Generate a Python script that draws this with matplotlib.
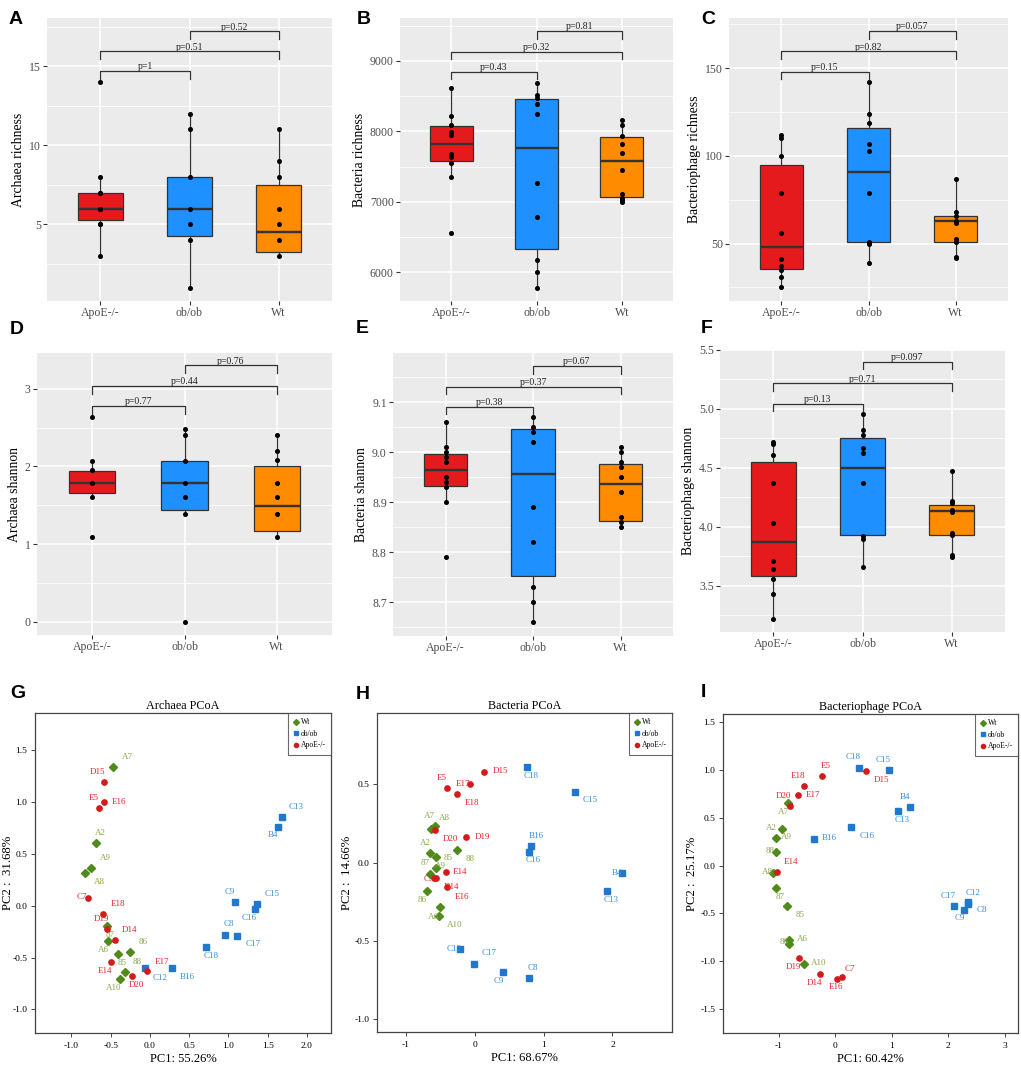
import matplotlib

matplotlib.use("Agg")
import matplotlib.pyplot as plt
from matplotlib.ticker import MultipleLocator, FormatStrFormatter
from matplotlib.lines import Line2D

W, H = 1021, 1069

GROUPS = ["ApoE-/-", "ob/ob", "Wt"]
BOX_COLORS = ["#E41A1C", "#1E90FF", "#FF8C00"]
PAIRS = [(1, 2), (1, 3), (2, 3)]

# ---- alpha diversity: points per group, box stats (q1, med, q3, lo, hi), brackets
A_PTS = [[14, 8, 7, 7, 6, 6, 6, 5, 5, 3],
         [12, 11, 8, 6, 5, 4, 1],
         [11, 9, 8, 6, 5, 4, 3]]
A_BOX = [[5.25, 6, 7, 3, 8], [4.25, 6, 8, 1, 12], [3.25, 4.5, 7.5, 3, 11]]
A_BR_Y = [14.7, 15.95, 17.2]
A_BR_P = ["p=1", "p=0.51", "p=0.52"]

B_PTS = [[8620, 8220, 8090, 7990, 7950, 7680, 7630, 7550, 7350, 6560],
         [8690, 8520, 8480, 8390, 8240, 7260, 6780, 6170, 6000, 5780],
         [8160, 8090, 7940, 7820, 7690, 7450, 7110, 7050, 7020, 6990]]
B_BOX = [[7573, 7820, 8076, 7350, 8620], [6332, 7768, 8460, 5780, 8690],
         [7071, 7573, 7915, 6990, 8160]]
B_BR_Y = [8848, 9133, 9427]
B_BR_P = ["p=0.43", "p=0.32", "p=0.81"]

C_PTS = [[112, 110.5, 100, 79, 56, 41, 37.5, 35, 31, 25],
         [142, 124, 119, 107, 103, 79, 51, 49.6, 39],
         [87, 68, 65.5, 63, 62, 52.5, 51, 42.6, 41.6]]
C_BOX = [[35.7, 48.3, 95, 25, 112], [51, 91, 116, 39, 142], [51, 63, 66, 41.6, 87]]
C_BR_Y = [148.1, 159.7, 171.3]
C_BR_P = ["p=0.15", "p=0.82", "p=0.057"]

D_PTS = [[2.64, 2.07, 1.95, 1.79, 1.61, 1.09],
         [2.48, 2.40, 2.07, 1.79, 1.61, 1.39, 0.0],
         [2.40, 2.20, 2.08, 1.79, 1.61, 1.39, 1.09]]
D_BOX = [[1.654, 1.787, 1.946, 1.61, 2.07], [1.443, 1.787, 2.075, 1.387, 2.48],
         [1.172, 1.495, 2.01, 1.09, 2.40]]
D_BR_Y = [2.776, 3.034, 3.30]
D_BR_P = ["p=0.77", "p=0.44", "p=0.76"]

E_PTS = [[9.06, 9.01, 9.00, 8.99, 8.98, 8.95, 8.94, 8.93, 8.90, 8.79],
         [9.07, 9.05, 9.04, 9.02, 8.89, 8.82, 8.73, 8.70, 8.66],
         [9.01, 9.00, 8.98, 8.97, 8.95, 8.92, 8.87, 8.86, 8.85]]
E_BOX = [[8.933, 8.965, 8.997, 8.90, 9.06], [8.752, 8.956, 9.047, 8.66, 9.07],
         [8.863, 8.936, 8.977, 8.85, 9.01]]
E_BR_Y = [9.091, 9.131, 9.172]
E_BR_P = ["p=0.38", "p=0.37", "p=0.67"]

F_PTS = [[4.72, 4.70, 4.61, 4.37, 4.03, 3.71, 3.64, 3.56, 3.43, 3.22],
         [4.96, 4.82, 4.78, 4.67, 4.63, 4.37, 3.92, 3.90, 3.66],
         [4.47, 4.22, 4.20, 4.14, 4.13, 3.95, 3.93, 3.76, 3.74]]
F_BOX = [[3.579, 3.87, 4.548, 3.22, 4.72], [3.929, 4.5, 4.754, 3.66, 4.96],
         [3.935, 4.136, 4.189, 3.74, 4.47]]
F_BR_Y = [5.045, 5.218, 5.401]
F_BR_P = ["p=0.13", "p=0.71", "p=0.097"]

# ---- PCoA: sample names, coordinates, label positions
G_WT_N = ["A7", "A2", "A9", "A8", "87", "A6", "85", "86", "88", "A10"]
G_WT_X = [-0.468, -0.685, -0.749, -0.826, -0.549, -0.536, -0.404, -0.251, -0.323, -0.387]
G_WT_Y = [1.339, 0.610, 0.368, 0.316, -0.197, -0.342, -0.465, -0.448, -0.642, -0.710]
G_WT_LX = [-0.289, -0.630, -0.570, -0.643, -0.502, -0.596, -0.349, -0.089, -0.162, -0.464]
G_WT_LY = [1.435, 0.706, 0.465, 0.232, -0.284, -0.429, -0.552, -0.348, -0.542, -0.794]
G_OB_N = ["C13", "B4", "C9", "C15", "C16", "C8", "C17", "C18", "B16", "C12"]
G_OB_X = [1.677, 1.626, 1.085, 1.362, 1.340, 0.953, 1.115, 0.719, 0.277, -0.064]
G_OB_Y = [0.852, 0.765, 0.032, 0.016, -0.035, -0.281, -0.290, -0.400, -0.600, -0.606]
G_OB_LX = [1.864, 1.562, 1.017, 1.562, 1.268, 1.004, 1.311, 0.774, 0.472, 0.128]
G_OB_LY = [0.952, 0.681, 0.132, 0.116, -0.119, -0.181, -0.374, -0.487, -0.687, -0.697]
G_AP_N = ["D15", "E16", "E5", "C7", "E18", "D19", "D14", "E14", "D20", "E17"]
G_AP_X = [-0.587, -0.587, -0.647, -0.791, -0.604, -0.549, -0.451, -0.494, -0.226, -0.043]
G_AP_Y = [1.194, 1.000, 0.942, 0.077, -0.077, -0.226, -0.335, -0.542, -0.681, -0.632]
G_AP_LX = [-0.664, -0.396, -0.715, -0.864, -0.413, -0.617, -0.255, -0.570, -0.166, 0.153]
G_AP_LY = [1.290, 1.000, 1.039, 0.084, 0.016, -0.126, -0.235, -0.632, -0.768, -0.539]

H_WT_N = ["A7", "A8", "A2", "85", "88", "A9", "87", "86", "A6", "A10"]
H_WT_X = [-0.638, -0.580, -0.657, -0.570, -0.256, -0.570, -0.657, -0.691, -0.522, -0.502]
H_WT_Y = [0.217, 0.236, 0.062, 0.034, 0.081, -0.036, -0.070, -0.181, -0.343, -0.285]
H_WT_LX = [-0.657, -0.435, -0.720, -0.386, -0.068, -0.493, -0.725, -0.763, -0.594, -0.290]
H_WT_LY = [0.300, 0.283, 0.128, 0.030, 0.023, -0.021, 0.000, -0.238, -0.345, -0.400]
H_OB_N = ["C18", "C15", "B16", "C16", "B4", "C13", "C12", "C17", "C9", "C8"]
H_OB_X = [0.754, 1.449, 0.821, 0.783, 2.145, 1.918, -0.213, -0.010, 0.415, 0.783]
H_OB_Y = [0.611, 0.453, 0.106, 0.070, -0.068, -0.181, -0.555, -0.645, -0.698, -0.740]
H_OB_LX = [0.816, 1.671, 0.899, 0.855, 2.068, 1.986, -0.295, 0.213, 0.343, 0.841]
H_OB_LY = [0.555, 0.398, 0.172, 0.017, -0.064, -0.236, -0.551, -0.577, -0.755, -0.674]
H_AP_N = ["D15", "E5", "E17", "E18", "D19", "D20", "E14", "C7", "D14", "E16"]
H_AP_X = [0.140, -0.396, -0.072, -0.261, -0.121, -0.575, -0.425, -0.585, -0.556, -0.406]
H_AP_Y = [0.581, 0.477, 0.506, 0.436, 0.162, 0.209, -0.062, -0.100, -0.098, -0.155]
H_AP_LX = [0.367, -0.473, -0.164, -0.043, 0.106, -0.357, -0.213, -0.671, -0.333, -0.188]
H_AP_LY = [0.583, 0.540, 0.506, 0.379, 0.164, 0.149, -0.060, -0.102, -0.155, -0.217]

I_WT_N = ["A7", "A2", "A9", "88", "A8", "87", "85", "A6", "86", "A10"]
I_WT_X = [-0.838, -0.950, -1.050, -1.050, -1.109, -1.056, -0.855, -0.832, -0.826, -0.566]
I_WT_Y = [0.656, 0.387, 0.286, 0.143, -0.077, -0.230, -0.426, -0.774, -0.816, -1.029]
I_WT_LX = [-0.920, -1.139, -0.867, -1.156, -1.198, -0.985, -0.625, -0.578, -0.914, -0.289]
I_WT_LY = [0.562, 0.391, 0.296, 0.153, -0.070, -0.324, -0.520, -0.771, -0.802, -1.022]
I_OB_N = ["C18", "C15", "B4", "C13", "C16", "B16", "C17", "C12", "C8", "C9"]
I_OB_X = [0.419, 0.956, 1.322, 1.103, 0.283, -0.383, 2.100, 2.354, 2.354, 2.289]
I_OB_Y = [1.025, 0.998, 0.610, 0.572, 0.401, 0.283, -0.426, -0.380, -0.405, -0.464]
I_OB_LX = [0.313, 0.855, 1.239, 1.186, 0.555, -0.112, 2.000, 2.437, 2.590, 2.201]
I_OB_LY = [1.134, 1.109, 0.719, 0.478, 0.310, 0.286, -0.321, -0.290, -0.467, -0.551]
I_AP_N = ["E5", "D15", "E18", "E17", "D20", "E14", "D19", "D14", "E16", "C7"]
I_AP_X = [-0.242, 0.543, -0.555, -0.655, -0.814, -1.044, -0.643, -0.277, 0.029, 0.118]
I_AP_Y = [0.938, 0.987, 0.830, 0.736, 0.624, -0.066, -0.966, -1.130, -1.186, -1.168]
I_AP_LX = [-0.171, 0.814, -0.655, -0.389, -0.914, -0.785, -0.743, -0.378, 0.012, 0.265]
I_AP_LY = [1.043, 0.893, 0.935, 0.736, 0.725, 0.038, -1.060, -1.228, -1.266, -1.081]

EDGE = "#333333"
PANEL_BG = "#EBEBEB"
TICK_TXT = "#4D4D4D"
GREEN, GREEN_TXT = "#4F8A1A", "#86A846"
BLUE, BLUE_TXT = "#1F78CC", "#3A8EDB"
RED, RED_TXT = "#D41A1A", "#E3262B"

plt.rcParams.update({
    "font.family": "Liberation Serif",
    "axes.unicode_minus": False,
})

fig = plt.figure(figsize=(W / 100, H / 100), dpi=100)


def rect(left, top, right, bottom):
    return [left / W, 1 - bottom / H, (right - left) / W, (bottom - top) / H]


def letter(ch, x, y):
    fig.text(x / W, 1 - y / H, ch, fontsize=14, fontweight="bold",
             family="Liberation Sans", va="baseline", ha="left")


def box_panel(box, pts, stats, br_y, br_p, ylabel, ylim, yticks, minor, fmt,
              xfs=(8.5, 8.5, 8.5)):
    ax = fig.add_axes(rect(*box))
    ax.set_facecolor(PANEL_BG)
    bstats = [dict(q1=s[0], med=s[1], q3=s[2], whislo=s[3], whishi=s[4], fliers=[])
              for s in stats]
    b = ax.bxp(bstats, positions=[1, 2, 3], widths=0.5, patch_artist=True,
               showcaps=False, showfliers=False,
               boxprops=dict(edgecolor=EDGE, lw=0.9),
               medianprops=dict(color=EDGE, lw=1.7),
               whiskerprops=dict(color=EDGE, lw=0.9))
    for patch, c in zip(b["boxes"], BOX_COLORS):
        patch.set_facecolor(c)
    for i, ys in enumerate(pts):
        ax.plot([i + 1] * len(ys), ys, "o", ms=2.6, color="black", zorder=5)
    drop = 0.027 * (ylim[1] - ylim[0])
    for (a, c), y, p in zip(PAIRS, br_y, br_p):
        ax.plot([a, a, c, c], [y - drop, y, y, y - drop], color=EDGE, lw=0.9, zorder=5)
        ax.annotate(p, ((a + c) / 2, y), xytext=(0, 1.2), textcoords="offset points",
                    ha="center", va="baseline", fontsize=7, color="#222222")
    ax.set_xlim(0.4, 3.6)
    ax.set_ylim(*ylim)
    ax.set_xticks([1, 2, 3])
    ax.set_xticklabels(GROUPS)
    for t, fs in zip(ax.get_xticklabels(), xfs):
        t.set_fontsize(fs)
    ax.set_yticks(yticks)
    ax.yaxis.set_major_formatter(FormatStrFormatter(fmt))
    ax.yaxis.set_minor_locator(MultipleLocator(minor))
    ax.set_axisbelow(True)
    ax.grid(which="major", color="white", lw=1.1)
    ax.grid(which="minor", axis="y", color="white", lw=0.55)
    ax.tick_params(which="major", length=3, color=EDGE, labelcolor=TICK_TXT,
                   labelsize=8.5, pad=1.5)
    ax.tick_params(which="minor", length=0)
    for s in ax.spines.values():
        s.set_visible(False)
    ax.set_ylabel(ylabel, fontsize=9.8, labelpad=3)
    return ax


def pcoa_panel(box, groups, title, xlabel, ylabel, xlim, ylim, xticks, yticks, fmt,
               ylab_x):
    ax = fig.add_axes(rect(*box))
    for xs, ys, names, lx, ly, mk, ms, col, tcol in groups:
        ax.plot(xs, ys, mk, ms=ms, color=col, ls="none", zorder=3)
        for n, tx, ty in zip(names, lx, ly):
            ax.text(tx, ty, n, color=tcol, fontsize=6.5, ha="center", va="center")
    ax.set_xlim(*xlim)
    ax.set_ylim(*ylim)
    ax.set_xticks(xticks)
    ax.set_yticks(yticks)
    ax.xaxis.set_major_formatter(FormatStrFormatter(fmt))
    ax.yaxis.set_major_formatter(FormatStrFormatter("%.1f"))
    ax.tick_params(length=3, width=0.7, color="#444444", labelsize=6.8, pad=3.5)
    ax.tick_params(axis="y", pad=2.5)
    for s in ax.spines.values():
        s.set_color("#444444")
        s.set_linewidth(0.9)
    ax.set_title(title, fontsize=8.7, pad=3)
    ax.set_xlabel(xlabel, fontsize=9, labelpad=2)
    ax.set_ylabel(ylabel, fontsize=9.2)
    ax.yaxis.set_label_coords(ylab_x, 0.5)
    handles = [Line2D([], [], marker="D", ms=3, color=GREEN, ls="none"),
               Line2D([], [], marker="s", ms=3, color=BLUE, ls="none"),
               Line2D([], [], marker="o", ms=3, color=RED, ls="none")]
    leg = ax.legend(handles, ["Wt", "ob/ob", "ApoE-/-"], loc="upper right",
                    fontsize=5.5, frameon=True, fancybox=False, borderaxespad=0,
                    handlelength=0.6, handletextpad=0.35, borderpad=0.7,
                    labelspacing=0.45)
    leg.get_frame().set_edgecolor("#444444")
    leg.get_frame().set_linewidth(0.8)
    return ax


# ---- row 1 / row 2 : richness and shannon
box_panel((47, 18, 332, 301), A_PTS, A_BOX, A_BR_Y, A_BR_P, "Archaea richness",
          (0.15, 18.05), [5, 10, 15], 2.5, "%d")
box_panel((400, 18, 673, 301), B_PTS, B_BOX, B_BR_Y, B_BR_P, "Bacteria richness",
          (5590, 9610), [6000, 7000, 8000, 9000], 500, "%d")
box_panel((729, 18, 1008, 301), C_PTS, C_BOX, C_BR_Y, C_BR_P, "Bacteriophage richness",
          (17.3, 178.7), [50, 100, 150], 25, "%d")
box_panel((37, 353, 332, 635), D_PTS, D_BOX, D_BR_Y, D_BR_P, "Archaea shannon",
          (-0.168, 3.46), [0, 1, 2, 3], 0.5, "%d", xfs=(6.5, 8.5, 8.5))
box_panel((393, 353, 673, 636), E_PTS, E_BOX, E_BR_Y, E_BR_P, "Bacteria shannon",
          (8.633, 9.198), [8.7, 8.8, 8.9, 9.0, 9.1], 0.05, "%.1f", xfs=(9.5, 9.5, 9.5))
box_panel((720, 350, 1005, 632), F_PTS, F_BOX, F_BR_Y, F_BR_P, "Bacteriophage shannon",
          (3.108, 5.5), [3.5, 4.0, 4.5, 5.0, 5.5], 0.25, "%.1f")

# ---- row 3 : PCoA
pcoa_panel((35, 713, 331, 1033),
           [(G_WT_X, G_WT_Y, G_WT_N, G_WT_LX, G_WT_LY, "D", 3.6, GREEN, GREEN_TXT),
            (G_OB_X, G_OB_Y, G_OB_N, G_OB_LX, G_OB_LY, "s", 3.8, BLUE, BLUE_TXT),
            (G_AP_X, G_AP_Y, G_AP_N, G_AP_LX, G_AP_LY, "o", 3.8, RED, RED_TXT)],
           "Archaea PCoA", "PC1: 55.26%", "PC2 :  31.68%", (-1.464, 2.306), (-1.229, 1.861),
           [-1.0, -0.5, 0.0, 0.5, 1.0, 1.5, 2.0], [-1.0, -0.5, 0.0, 0.5, 1.0, 1.5], "%.1f",
           -0.072)
pcoa_panel((377, 713, 672, 1032),
           [(H_WT_X, H_WT_Y, H_WT_N, H_WT_LX, H_WT_LY, "D", 3.6, GREEN, GREEN_TXT),
            (H_OB_X, H_OB_Y, H_OB_N, H_OB_LX, H_OB_LY, "s", 3.8, BLUE, BLUE_TXT),
            (H_AP_X, H_AP_Y, H_AP_N, H_AP_LX, H_AP_LY, "o", 3.8, RED, RED_TXT)],
           "Bacteria PCoA", "PC1: 68.67%", "PC2 :  14.66%", (-1.42, 2.865), (-1.083, 0.957),
           [-1, 0, 1, 2], [-1.0, -0.5, 0.0, 0.5], "%d", -0.08)
pcoa_panel((723, 714, 1018, 1033),
           [(I_WT_X, I_WT_Y, I_WT_N, I_WT_LX, I_WT_LY, "D", 3.6, GREEN, GREEN_TXT),
            (I_OB_X, I_OB_Y, I_OB_N, I_OB_LX, I_OB_LY, "s", 3.8, BLUE, BLUE_TXT),
            (I_AP_X, I_AP_Y, I_AP_N, I_AP_LX, I_AP_LY, "o", 3.8, RED, RED_TXT)],
           "Bacteriophage PCoA", "PC1: 60.42%", "PC2 :  25.17%", (-1.994, 3.239),
           (-1.751, 1.587), [-1, 0, 1, 2, 3], [-1.5, -1.0, -0.5, 0.0, 0.5, 1.0, 1.5], "%d",
           -0.085)

for ch, x, y in [("A", 9, 24), ("B", 357, 24), ("C", 701, 24),
                 ("D", 10, 334), ("E", 356, 333), ("F", 701, 333),
                 ("G", 10, 698), ("H", 356, 699), ("I", 701, 697)]:
    letter(ch, x, y)

fig.savefig("out.png", dpi=100)
